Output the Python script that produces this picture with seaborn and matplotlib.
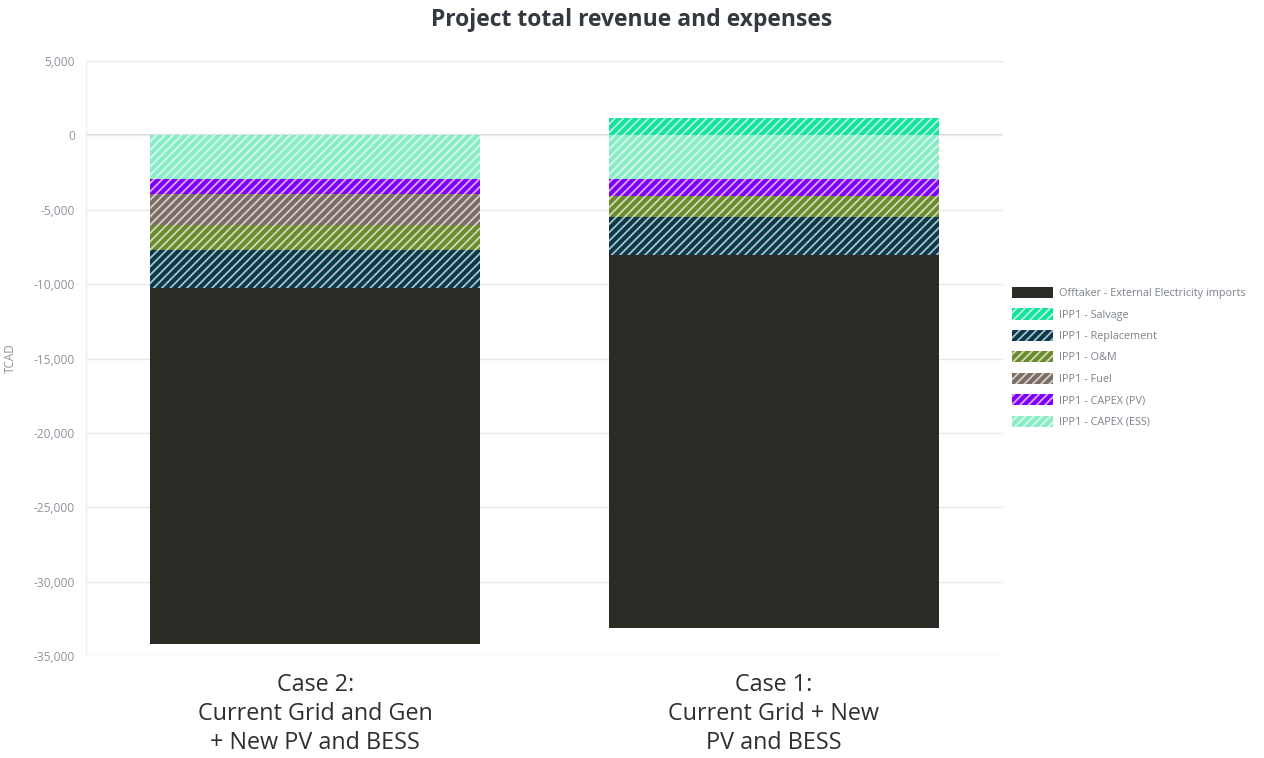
import matplotlib
matplotlib.use("Agg")
import matplotlib.pyplot as plt
from matplotlib.patches import Patch
from matplotlib.ticker import FuncFormatter
import numpy as np
import pandas as pd
import seaborn as sns

# ---- data (TCAD) ----
cases = [
    "Case 2:\nCurrent Grid and Gen\n+ New PV and BESS",
    "Case 1:\nCurrent Grid + New\nPV and BESS",
]
offtaker_imports = [-23970, -25070]
salvage = [0, 1140]
replacement = [-2510, -2570]
o_and_m = [-1680, -1410]
fuel = [-2080, 0]
capex_pv = [-1060, -1120]
capex_ess = [-2910, -2960]

components = [
    "IPP1 - CAPEX (ESS)",
    "IPP1 - CAPEX (PV)",
    "IPP1 - Fuel",
    "IPP1 - O&M",
    "IPP1 - Replacement",
    "Offtaker - External Electricity imports",
]
component_values = [capex_ess, capex_pv, fuel, o_and_m, replacement, offtaker_imports]

colors = {
    "Offtaker - External Electricity imports": "#2c2a25",
    "IPP1 - Salvage": "#12e29c",
    "IPP1 - Replacement": "#093a4c",
    "IPP1 - O&M": "#6a8a2c",
    "IPP1 - Fuel": "#7a6d64",
    "IPP1 - CAPEX (PV)": "#7e00fb",
    "IPP1 - CAPEX (ESS)": "#88ecc6",
}
hatches = {k: ("" if k.startswith("Offtaker") else "////") for k in colors}
legend_order = [
    "Offtaker - External Electricity imports",
    "IPP1 - Salvage",
    "IPP1 - Replacement",
    "IPP1 - O&M",
    "IPP1 - Fuel",
    "IPP1 - CAPEX (PV)",
    "IPP1 - CAPEX (ESS)",
]

# long table with the running (stacked) end of every expense layer
rows = []
for ci, case in enumerate(cases):
    running = 0
    for comp, vals in zip(components, component_values):
        running += vals[ci]
        rows.append({"case": case, "component": comp, "value": vals[ci], "end": running})
    rows.append({"case": case, "component": "IPP1 - Salvage", "value": salvage[ci], "end": salvage[ci]})
df = pd.DataFrame(rows)

# ---- style ----
sns.set_theme(style="white")
plt.rcParams["font.family"] = ["Open Sans", "DejaVu Sans"]
plt.rcParams["hatch.linewidth"] = 1.3

grid_col = "#e8e8e8"
tick_col = "#8c939b"
hatch_edge = (1, 1, 1, 0.68)

fig = plt.figure(figsize=(12.64, 7.58), dpi=100)
ax = fig.add_axes([86 / 1264, 1 - 656 / 758, (1003 - 86) / 1264, (656 - 61) / 758])

# draw the deepest layers first so shallower layers sit on top of them
draw_order = components[::-1] + ["IPP1 - Salvage"]
for comp in draw_order:
    sub = df[df["component"] == comp]
    sns.barplot(
        data=sub, x="case", y="end", order=cases,
        color=colors[comp], saturation=1, width=0.72,
        hatch=hatches[comp], edgecolor=hatch_edge, linewidth=0,
        errorbar=None, ax=ax,
    )

ax.set_ylim(-35000, 5000)
ax.set_yticks(np.arange(-35000, 5001, 5000))
ax.yaxis.set_major_formatter(FuncFormatter(lambda v, p: f"{int(v):,}"))
ax.set_xlim(-0.5, 1.5)
ax.set_axisbelow(True)
ax.yaxis.grid(True, color=grid_col, linewidth=1)
ax.axhline(0, color="#d6d6d6", linewidth=1.2, zorder=0.5)
for s in ["top", "right", "bottom"]:
    ax.spines[s].set_visible(False)
ax.spines["left"].set_color("#efefef")
ax.spines["left"].set_linewidth(1)

ax.tick_params(axis="y", length=7, color=grid_col, labelsize=8.6, labelcolor=tick_col, pad=1)
ax.tick_params(axis="x", length=0, labelsize=16.8, labelcolor="#2f2f2f", pad=12)
for lbl in ax.get_xticklabels():
    lbl.set_linespacing(1.3)

ax.set_xlabel("")
ax.set_ylabel("TCAD", fontsize=8.5, color=tick_col)
ax.yaxis.set_label_coords(-0.075, 0.5)

fig.suptitle("Project total revenue and expenses", x=0.5, y=0.99,
             fontsize=16.5, fontweight="bold", color="#33393f")

handles = [
    Patch(facecolor=colors[k], hatch=hatches[k], edgecolor=hatch_edge, linewidth=0, label=k)
    for k in legend_order
]
fig.legend(handles=handles, loc="upper left", bbox_to_anchor=(1012 / 1264, 1 - 287 / 758),
           frameon=False, fontsize=7.8, labelcolor="#7b828a", handlelength=3.8,
           handleheight=1.2, labelspacing=0.85, borderpad=0, borderaxespad=0,
           handletextpad=0.55)

fig.savefig("out.png", dpi=100)
